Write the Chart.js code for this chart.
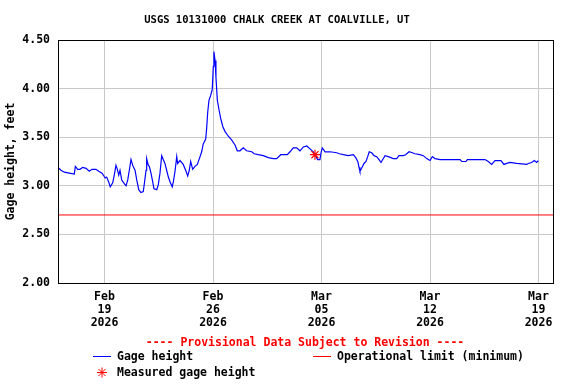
<!DOCTYPE html>
<html>
<head>
<meta charset="utf-8">
<script src="https://cdn.jsdelivr.net/npm/chart.js@4"></script>
<style>
  html, body { margin: 0; padding: 0; background: #fff; }
  #wrap { width: 576px; height: 384px; position: relative; }
</style>
</head>
<body>
<div id="wrap"><canvas id="gageChart" width="576" height="384"></canvas></div>
<script>
// x values are days since 2026-02-16 00:00
const gageDays = [
  0.00, 0.19, 0.41, 0.73, 1.05, 1.12, 1.27, 1.42, 1.59, 1.81, 2.02, 2.19, 2.45, 2.63, 2.84,
  3.05, 3.14, 3.27, 3.37, 3.53, 3.63, 3.74, 3.81, 3.92, 4.00, 4.11, 4.24, 4.39, 4.50, 4.60,
  4.71, 4.82, 4.97, 5.08, 5.21, 5.35, 5.50, 5.57, 5.68, 5.72, 5.83, 5.89, 6.00, 6.11, 6.19,
  6.37, 6.47, 6.58, 6.69, 6.79, 6.90, 7.01, 7.12, 7.23, 7.37, 7.44, 7.55, 7.66, 7.72, 7.87,
  8.08, 8.26, 8.37, 8.47, 8.56, 8.69, 8.84, 8.99, 9.12, 9.27, 9.37, 9.53, 9.59, 9.66, 9.74,
  9.85, 9.95, 10.02, 10.06, 10.13, 10.19, 10.28, 10.39, 10.50, 10.63, 10.77, 10.99, 11.21, 11.42, 11.57,
  11.74, 11.95, 12.17, 12.50, 12.66, 12.92, 13.25, 13.57, 13.89, 14.11, 14.37, 14.79, 14.97, 15.18, 15.40,
  15.61, 15.83, 16.05, 16.26, 16.47, 16.65, 16.75, 16.90, 16.97, 17.05, 17.23, 17.55, 17.98, 18.15, 18.41,
  18.73, 19.05, 19.21, 19.34, 19.42, 19.48, 19.59, 19.74, 19.87, 19.98, 20.08, 20.24, 20.39, 20.56, 20.71,
  20.84, 20.95, 21.10, 21.31, 21.63, 21.85, 22.00, 22.28, 22.43, 22.65, 22.86, 23.03, 23.35, 23.57, 23.79,
  24.00, 24.15, 24.32, 24.65, 25.94, 26.05, 26.32, 26.41, 27.55, 27.76, 27.98, 28.19, 28.58, 28.77, 28.95,
  29.16, 29.59, 30.24, 30.34, 30.56, 30.73, 30.88, 30.99
];
const gageFeet = [
  3.19, 3.16, 3.14, 3.13, 3.12, 3.20, 3.17, 3.17, 3.19, 3.18, 3.15, 3.17, 3.17, 3.15, 3.13,
  3.08, 3.09, 3.04, 2.99, 3.03, 3.11, 3.21, 3.18, 3.11, 3.16, 3.06, 3.03, 3.00, 3.06, 3.16,
  3.27, 3.21, 3.16, 3.06, 2.96, 2.93, 2.94, 3.02, 3.16, 3.28, 3.21, 3.20, 3.13, 3.04, 2.97,
  2.96, 3.01, 3.13, 3.31, 3.27, 3.23, 3.16, 3.09, 3.04, 2.99, 3.04, 3.15, 3.30, 3.23, 3.26,
  3.22, 3.15, 3.10, 3.16, 3.25, 3.17, 3.20, 3.22, 3.28, 3.35, 3.43, 3.48, 3.59, 3.76, 3.88,
  3.93, 3.99, 4.23, 4.38, 4.29, 4.12, 3.88, 3.78, 3.69, 3.61, 3.56, 3.51, 3.47, 3.42, 3.36,
  3.36, 3.39, 3.36, 3.35, 3.33, 3.32, 3.31, 3.29, 3.28, 3.28, 3.32, 3.32, 3.35, 3.39, 3.39,
  3.36, 3.40, 3.41, 3.38, 3.35, 3.30, 3.27, 3.27, 3.34, 3.39, 3.35, 3.35, 3.34, 3.33, 3.32,
  3.31, 3.32, 3.29, 3.25, 3.19, 3.15, 3.18, 3.23, 3.25, 3.30, 3.35, 3.34, 3.31, 3.30, 3.27,
  3.24, 3.27, 3.31, 3.30, 3.28, 3.28, 3.31, 3.31, 3.32, 3.35, 3.34, 3.33, 3.32, 3.31, 3.28,
  3.26, 3.30, 3.28, 3.27, 3.27, 3.25, 3.25, 3.27, 3.27, 3.25, 3.22, 3.26, 3.26, 3.22, 3.23,
  3.24, 3.23, 3.22, 3.23, 3.24, 3.26, 3.24, 3.26
];
const measuredDays = [16.58];
const measuredFeet = [3.32];
const limitDays = [0, 32];
const limitFeet = [2.7, 2.7];

const tickDays = [3, 10, 17, 24, 31];
const tickLabels = [
  ['Feb', '19', '2026'],
  ['Feb', '26', '2026'],
  ['Mar', '05', '2026'],
  ['Mar', '12', '2026'],
  ['Mar', '19', '2026']
];
const yTicks = [2.0, 2.5, 3.0, 3.5, 4.0, 4.5];

const MONO = '"DejaVu Sans Mono", "Liberation Mono", monospace';
const GRID = '#c8c8c8';

function toXY(xs, ys) {
  return xs.map((x, i) => ({ x: x, y: ys[i] }));
}

// title, provisional note, legend and plot frame
const usgsDecor = {
  id: 'usgsDecor',
  afterDraw(chart) {
    const ctx = chart.ctx;
    const a = chart.chartArea;
    ctx.save();

    ctx.strokeStyle = '#000';
    ctx.lineWidth = 1;
    ctx.strokeRect(Math.round(a.left) + 0.5, Math.round(a.top) + 0.5,
      Math.round(a.right - a.left) - 1, Math.round(a.bottom - a.top));

    ctx.textBaseline = 'middle';
    ctx.fillStyle = '#000';
    ctx.font = 'bold 10.5px ' + MONO;
    ctx.textAlign = 'center';
    ctx.fillText('USGS 10131000 CHALK CREEK AT COALVILLE, UT', 277, 20);

    ctx.font = 'bold 11.5px ' + MONO;
    ctx.fillStyle = '#ff0000';
    ctx.fillText('---- Provisional Data Subject to Revision ----', 305, 343);

    ctx.textAlign = 'left';
    ctx.fillStyle = '#000';
    ctx.fillText('Gage height', 117, 357);
    ctx.fillText('Operational limit (minimum)', 337, 357);
    ctx.fillText('Measured gage height', 117, 373);

    ctx.lineWidth = 1;
    ctx.strokeStyle = '#0000ff';
    ctx.beginPath(); ctx.moveTo(93, 356.5); ctx.lineTo(111, 356.5); ctx.stroke();
    ctx.strokeStyle = '#ff0000';
    ctx.beginPath(); ctx.moveTo(313, 356.5); ctx.lineTo(331, 356.5); ctx.stroke();

    Chart.helpers.drawPoint(ctx, {
      pointStyle: 'star', radius: 5, rotation: 0, borderWidth: 1
    }, 102, 372.5);
    ctx.restore();
  }
};

new Chart(document.getElementById('gageChart'), {
  type: 'line',
  data: {
    datasets: [
      {
        label: 'Measured gage height',
        data: toXY(measuredDays, measuredFeet),
        showLine: false,
        pointStyle: 'star',
        pointRadius: 5,
        pointBorderColor: '#ff0000',
        pointBackgroundColor: '#ff0000',
        pointBorderWidth: 1.2
      },
      {
        label: 'Gage height',
        data: toXY(gageDays, gageFeet),
        borderColor: '#0000ff',
        borderWidth: 1.2,
        pointRadius: 0,
        tension: 0
      },
      {
        label: 'Operational limit (minimum)',
        data: toXY(limitDays, limitFeet),
        borderColor: '#ff0000',
        borderWidth: 1,
        pointRadius: 0
      }
    ]
  },
  options: {
    responsive: false,
    animation: false,
    layout: { padding: { top: 40, right: 22, bottom: 0, left: 0 } },
    plugins: {
      legend: { display: false },
      title: { display: false },
      tooltip: { enabled: false }
    },
    scales: {
      x: {
        type: 'linear',
        min: 0,
        max: 32,
        afterFit(scale) { scale.height = 101; },
        afterBuildTicks(scale) { scale.ticks = tickDays.map(v => ({ value: v })); },
        grid: { color: GRID, drawTicks: false, lineWidth: 1 },
        border: { display: false },
        ticks: {
          autoSkip: false,
          maxRotation: 0,
          padding: 8,
          color: '#000',
          font: { family: MONO, size: 11.5, weight: 'bold', lineHeight: 1.13 },
          callback(value) {
            const i = tickDays.indexOf(value);
            return i >= 0 ? tickLabels[i] : '';
          }
        }
      },
      y: {
        min: 2,
        max: 4.5,
        afterFit(scale) { scale.width = 58; },
        afterBuildTicks(scale) { scale.ticks = yTicks.map(v => ({ value: v })); },
        grid: { color: GRID, drawTicks: false, lineWidth: 1 },
        border: { display: false },
        ticks: {
          padding: 8,
          color: '#000',
          font: { family: MONO, size: 11.5, weight: 'bold' },
          callback(value) { return Number(value).toFixed(2); }
        },
        title: {
          display: true,
          text: 'Gage height, feet',
          color: '#000',
          padding: { top: 4, bottom: 0 },
          font: { family: MONO, size: 11.5, weight: 'bold' }
        }
      }
    }
  },
  plugins: [usgsDecor]
});
</script>
</body>
</html>
